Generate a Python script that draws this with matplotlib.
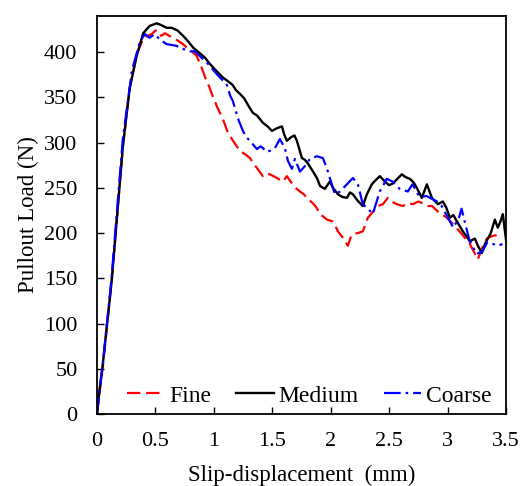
import matplotlib
matplotlib.use("Agg")
import matplotlib.pyplot as plt
from matplotlib import font_manager as fm

# locate a Times-like serif font
serif_name = None
for path in fm.findSystemFonts():
    if 'LiberationSerif-Regular' in path.replace(' ', ''):
        fm.fontManager.addfont(path)
        serif_name = fm.FontProperties(fname=path).get_name()
        break
if serif_name is None:
    serif_name = 'Liberation Serif'
plt.rcParams['font.family'] = [serif_name, 'DejaVu Serif']

fine_x = [0, 0.05, 0.126, 0.222, 0.28, 0.34, 0.40, 0.468, 0.50, 0.524, 0.55, 0.582, 0.62, 0.650, 0.69,
          0.736, 0.77, 0.796, 0.82, 0.853, 0.89, 0.924, 0.96, 0.992, 1.03, 1.078, 1.121, 1.16, 1.223,
          1.27, 1.309, 1.34, 1.369, 1.420, 1.45, 1.480, 1.51, 1.540, 1.591, 1.625, 1.668, 1.70, 1.737,
          1.77, 1.796, 1.848, 1.88, 1.908, 1.94, 1.967, 2.019, 2.04, 2.062, 2.104, 2.147, 2.17, 2.190,
          2.23, 2.275, 2.318, 2.352, 2.404, 2.447, 2.489, 2.52, 2.566, 2.618, 2.66, 2.703, 2.75, 2.789,
          2.83, 2.866, 2.917, 2.994, 3.062, 3.122, 3.191, 3.259, 3.30, 3.336, 3.388, 3.43, 3.465]
fine_y = [0, 52, 147, 296, 360, 398, 416, 420, 424, 424, 418, 421, 418, 416, 413,
          409, 405, 403, 400, 396, 385, 373, 362, 351, 339, 326, 311, 303, 291,
          287, 283, 277, 272, 263, 266, 265, 263, 261, 257, 263, 255, 250, 246,
          243, 239, 233, 228, 221, 218, 215, 213, 208, 202, 195, 186, 195, 199,
          200, 202, 217, 222, 230, 232, 239, 235, 232, 230, 233, 232, 235, 233,
          230, 230, 224, 217, 208, 199, 188, 171, 185, 194, 197, 198, 199]

medium_x = [0, 0.02, 0.05, 0.126, 0.222, 0.28, 0.34, 0.396, 0.45, 0.511, 0.55, 0.596, 0.639, 0.69,
            0.738, 0.78, 0.824, 0.87, 0.924, 0.96, 1.010, 1.04, 1.078, 1.12, 1.16, 1.19, 1.223, 1.26,
            1.30, 1.334, 1.37, 1.420, 1.46, 1.497, 1.54, 1.583, 1.60, 1.625, 1.66, 1.69, 1.711, 1.754,
            1.78, 1.805, 1.84, 1.882, 1.91, 1.950, 1.993, 2.02, 2.062, 2.10, 2.139, 2.165, 2.190, 2.23,
            2.275, 2.31, 2.352, 2.38, 2.421, 2.464, 2.50, 2.532, 2.57, 2.609, 2.64, 2.678, 2.71, 2.737,
            2.780, 2.823, 2.866, 2.917, 2.960, 2.99, 3.020, 3.05, 3.080, 3.131, 3.16, 3.191, 3.234,
            3.26, 3.293, 3.32, 3.345, 3.37, 3.405, 3.430, 3.45, 3.473, 3.50]
medium_y = [0, 25, 55, 147, 296, 360, 396, 421, 429, 432, 430, 427, 427, 424,
            418, 412, 405, 400, 394, 388, 381, 377, 372, 368, 364, 358, 354, 349,
            340, 333, 330, 322, 318, 313, 316, 318, 310, 302, 306, 308, 302, 283,
            281, 277, 270, 261, 252, 249, 257, 250, 243, 240, 239, 245, 243, 236,
            230, 243, 254, 258, 263, 257, 253, 255, 260, 265, 262, 260, 256, 250,
            239, 254, 239, 232, 235, 228, 217, 220, 213, 202, 197, 191, 194,
            186, 178, 188, 194, 200, 215, 206, 212, 221, 193]

coarse_x = [0, 0.05, 0.126, 0.222, 0.30, 0.368, 0.40, 0.411, 0.45, 0.496, 0.539, 0.596, 0.64, 0.682,
            0.72, 0.753, 0.796, 0.838, 0.895, 0.967, 1.01, 1.052, 1.109, 1.14, 1.163, 1.206, 1.249,
            1.28, 1.309, 1.369, 1.40, 1.420, 1.45, 1.480, 1.523, 1.565, 1.608, 1.634, 1.668, 1.694,
            1.737, 1.779, 1.822, 1.882, 1.933, 1.967, 1.993, 2.036, 2.079, 2.139, 2.190, 2.233, 2.275,
            2.32, 2.36, 2.42, 2.48, 2.53, 2.59, 2.66, 2.70, 2.76, 2.82, 2.91, 2.95, 3.02, 3.05, 3.10,
            3.12, 3.15, 3.19, 3.25, 3.30, 3.34, 3.39, 3.43, 3.47]
coarse_y = [0, 55, 152, 305, 380, 412, 418, 420, 416, 420, 414, 409, 408, 407,
            404, 403, 401, 401, 394, 385, 378, 372, 365, 352, 346, 327, 313,
            306, 302, 293, 296, 294, 290, 291, 294, 304, 294, 280, 271, 282,
            268, 274, 282, 285, 283, 272, 261, 243, 246, 254, 261, 254, 232,
            227, 221, 246, 260, 257, 249, 246, 254, 240, 241, 235, 230, 213, 206, 218,
            227, 211, 191, 177, 180, 190, 188, 186, 188]

series_labels = ["Fine", "Medium", "Coarse"]
x_ticks = [0, 0.5, 1, 1.5, 2, 2.5, 3, 3.5]
x_tick_labels = ["0", "0.5", "1", "1.5", "2", "2.5", "3", "3.5"]
y_ticks = [0, 50, 100, 150, 200, 250, 300, 350, 400]

fig = plt.figure(figsize=(5.24, 4.86), dpi=100)
ax = fig.add_axes([0.185, 0.148, 0.7806, 0.819])

ax.plot(fine_x, fine_y, color='red', lw=1.6, dashes=(6, 2.6), label=series_labels[0])
ax.plot(medium_x, medium_y, color='black', lw=1.7, label=series_labels[1])
ax.plot(coarse_x, coarse_y, color='blue', lw=1.6, dashes=(7.5, 2.2, 1.2, 2.2), label=series_labels[2])

ax.set_xlim(0, 3.5)
ax.set_ylim(0, 440)
ax.set_xticks(x_ticks)
ax.set_xticklabels(x_tick_labels)
ax.set_yticks(y_ticks)
ax.tick_params(direction='in', length=5, width=1, labelsize=16, top=False, right=False)
ax.tick_params(axis='y', pad=14)
ax.tick_params(axis='x', pad=13)
for s in ax.spines.values():
    s.set_linewidth(1.3)
    s.set_color('black')

ax.set_xlabel("Slip-displacement  (mm)", fontsize=16.5, labelpad=10)
ax.set_ylabel("Pullout Load (N)", fontsize=16.5, labelpad=4)

ax.legend(loc='center left', bbox_to_anchor=(0.073, 0.046), ncol=3, frameon=False,
          fontsize=17, handlelength=1.6, handletextpad=0.2, columnspacing=1.05,
          borderpad=0, borderaxespad=0)

fig.savefig("out.png", dpi=100)
